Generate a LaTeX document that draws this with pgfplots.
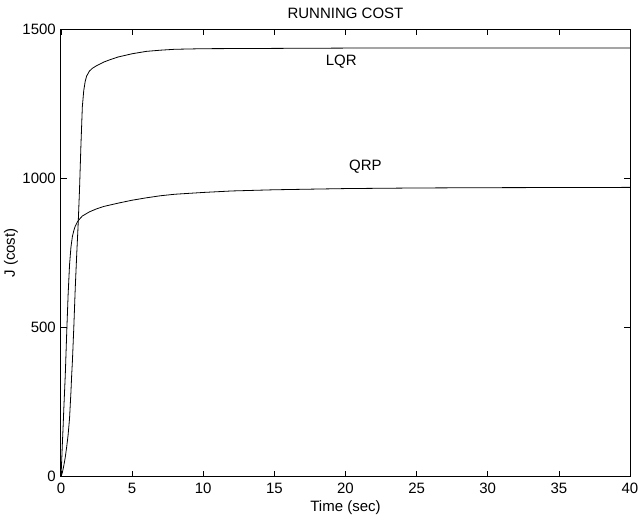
\documentclass[border=0pt]{standalone}
\usepackage{fontspec}
\setmainfont{Liberation Sans}
\usepackage{pgfplots}
\pgfplotsset{compat=1.18}
\begin{document}
\fontsize{15}{18}\selectfont
\begin{tikzpicture}
\useasboundingbox (-61pt,-38.3pt) rectangle (581pt,476.7pt);
\begin{axis}[
  at={(0pt,0pt)}, anchor=south west,
  width=569pt, height=447.4pt, scale only axis,
  xmin=0, xmax=40, ymin=0, ymax=1500,
  xtick={0,5,...,40}, ytick={0,500,1000,1500},
  tick align=inside, major tick length=6pt,
  tick style={black, line width=0.6pt},
  axis line style={line width=1pt},
  /pgf/number format/assume math mode=true,
  /pgf/number format/set thousands separator={},
  tick label style={font=\fontsize{15}{18}\selectfont},
  xticklabel style={yshift=-1.5pt},
  every axis title/.style={at={(rel axis cs:0.5,1)}, anchor=base, yshift=11pt, font=\fontsize{15}{18}\selectfont},
  every axis x label/.style={at={(rel axis cs:0.5,0)}, anchor=base, yshift=-35pt, font=\fontsize{15}{18}\selectfont},
  every axis y label/.style={at={(axis description cs:-0.0879,0.5)}, anchor=center, rotate=90, font=\fontsize{15}{18}\selectfont},
  title={RUNNING COST},
  xlabel={Time (sec)},
  ylabel={J (cost)},
]
\addplot[black, line width=0.8pt] coordinates {
(0,0) (0.1,15) (0.2,38) (0.3,65) (0.4,100) (0.5,140) (0.6,195) (0.7,285) (0.75,340) (0.8,385) (0.9,500) (1.0,630) (1.1,740) (1.2,840) (1.3,960) (1.4,1110) (1.5,1240) (1.6,1295) (1.7,1325) (1.8,1343) (2.0,1360) (2.2,1369) (2.5,1378) (3,1390) (3.5,1399) (4,1407) (5,1418) (6,1426) (7,1430) (8,1433) (10,1435) (15,1436) (20,1437) (40,1437)
};
\addplot[black, line width=0.8pt] coordinates {
(0,0) (0.05,55) (0.1,115) (0.15,170) (0.2,230) (0.3,340) (0.4,480) (0.5,610) (0.6,710) (0.7,770) (0.8,805) (0.9,825) (1.0,840) (1.2,858) (1.5,874) (2,888) (2.5,898) (3,906) (4,917) (5,927) (6,935) (7,942) (8,947) (9,950) (10,953) (12,958) (15,962) (20,966) (25,968) (30,969) (40,970)
};
\node[font=\fontsize{15}{18}\selectfont] at (axis cs:19.7,1390) {LQR};
\node[font=\fontsize{15}{18}\selectfont] at (axis cs:21.4,1041) {QRP};
\end{axis}
\end{tikzpicture}
\end{document}
